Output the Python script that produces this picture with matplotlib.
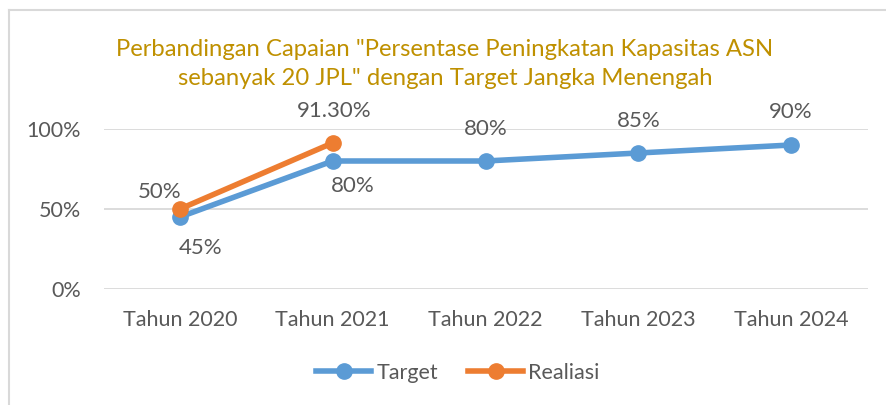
import matplotlib.pyplot as plt
from matplotlib.lines import Line2D

plt.rcParams['font.family'] = ['Lato', 'DejaVu Sans']

years = ["Tahun 2020", "Tahun 2021", "Tahun 2022", "Tahun 2023", "Tahun 2024"]
target = [0.45, 0.80, 0.80, 0.85, 0.90]
realisasi = [0.50, 0.913]
target_labels = ["45%", "80%", "80%", "85%", "90%"]
realisasi_labels = ["50%", "91.30%"]
y_ticks = [0, 0.5, 1.0]
y_tick_labels = ["0%", "50%", "100%"]

blue = '#5B9BD5'
orange = '#ED7D31'
grey = '#595959'

fig = plt.figure(figsize=(8.86, 4.05), dpi=100)
W, H = 886, 405
ax = fig.add_axes([103.5 / W, 1 - 289 / H, (867.5 - 103.5) / W, 160 / H])

x = list(range(len(years)))
ax.plot(x, target, color=blue, lw=4, marker='o', ms=11, solid_capstyle='round', zorder=3, clip_on=False)
ax.plot(x[:len(realisasi)], realisasi, color=orange, lw=4, marker='o', ms=11, solid_capstyle='round', zorder=4, clip_on=False)

ax.set_xlim(-0.5, len(years) - 0.5)
ax.set_ylim(0, 1.0)
ax.set_yticks(y_ticks)
ax.set_yticklabels(y_tick_labels)
ax.set_xticks(x)
ax.set_xticklabels(years)
ax.tick_params(length=0, labelsize=15.5, labelcolor=grey)
ax.tick_params(axis='y', pad=16)
ax.tick_params(axis='x', pad=15)
ax.grid(axis='y', color='#D9D9D9', lw=1.3)
ax.set_axisbelow(True)
for s in ax.spines.values():
    s.set_visible(False)

# data label offsets in pixels (dx, dy), dy positive = up
px = 0.72
target_off = [(21, -31), (20, -25), (0, 32), (0, 32), (0, 33)]
realisasi_off = [(-20, 17), (1, 32)]
for i, (v, lab) in enumerate(zip(target, target_labels)):
    dx, dy = target_off[i]
    ax.annotate(lab, (i, v), xytext=(dx * px, dy * px), textcoords='offset points',
                ha='center', va='center', fontsize=16, color=grey)
for i, (v, lab) in enumerate(zip(realisasi, realisasi_labels)):
    dx, dy = realisasi_off[i]
    ax.annotate(lab, (i, v), xytext=(dx * px, dy * px), textcoords='offset points',
                ha='center', va='center', fontsize=16, color=grey)

fig.text(445 / W, 1 - 64 / H,
         'Perbandingan Capaian "Persentase Peningkatan Kapasitas ASN\nsebanyak 20 JPL" dengan Target Jangka Menengah',
         ha='center', va='center', fontsize=17.2, color='#BF9000', linespacing=1.45)

handles = [Line2D([], [], color=blue, lw=4, marker='o', ms=11),
           Line2D([], [], color=orange, lw=4, marker='o', ms=11)]
fig.legend(handles, ["Target", "Realiasi"], loc='center', bbox_to_anchor=(458 / W, 1 - 373 / H),
           ncol=2, frameon=False, fontsize=15.5, labelcolor=grey, handlelength=2.55,
           handletextpad=0.25, columnspacing=1.4)

# chart frame
fig.add_artist(Line2D([8.5 / W, 8.5 / W], [0, 1 - 10 / H], color='#D9D9D9', lw=1.5))
fig.add_artist(Line2D([8.5 / W, 1], [1 - 10 / H, 1 - 10 / H], color='#D9D9D9', lw=1.5))

fig.savefig('out.png', dpi=100)
